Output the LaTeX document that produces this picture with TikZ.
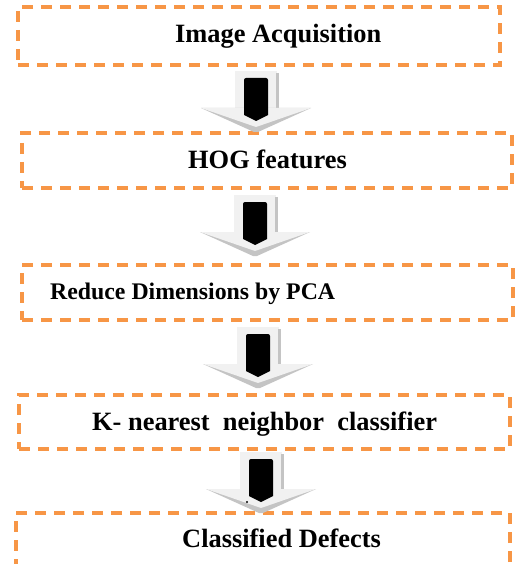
\documentclass[tikz,border=0pt]{standalone}
\usepackage{fontspec}
\setmainfont{Liberation Serif}
\definecolor{boxorange}{HTML}{F79646}
\definecolor{facelight}{HTML}{F1F1F1}
\definecolor{edgegray}{HTML}{C4C4C4}
\begin{document}
\begin{tikzpicture}[x=1pt,y=-1pt,
  flowbox/.style={draw=boxorange, line width=3.2pt, dash pattern=on 11pt off 8pt,
    rectangle, inner sep=0pt},
  steptext/.style={anchor=base west, inner sep=0pt, font=\fontsize{26.4}{30}\selectfont\bfseries},
  flowarrow/.pic={
    % shaft with its shaded side
    \fill[facelight] (-21,0) rectangle (21,37);
    \fill[edgegray] (20,2) rectangle (23,37);
    % head: shaded underside, then the light top face
    \fill[edgegray] (-55,37) -- (55,37) -- (2,61) -- (-2,61) -- cycle;
    \fill[facelight] (-55,37) -- (55,37) -- (0,56) -- cycle;
    % dark inner pointer
    \fill[black] (-12,44) [rounded corners=2pt] -- (-12,7) -- (12,7) [sharp corners] -- (12,44) -- (0,50) -- cycle;
  }]
\useasboundingbox (0,0) rectangle (515,564);
\clip (0,0) rectangle (515,564);

% process boxes
\node[flowbox, minimum width=482pt, minimum height=58pt] (b1) at (259,36) {};
\node[flowbox, minimum width=490pt, minimum height=55pt] (b2) at (267,160.5) {};
\node[flowbox, minimum width=491pt, minimum height=55pt] (b3) at (267.5,292.5) {};
\node[flowbox, minimum width=491pt, minimum height=54pt] (b4) at (264.5,422) {};
\node[flowbox, minimum width=494pt, minimum height=87pt] (b5) at (263,556.5) {};

% box captions
\node[steptext] (t1) at (175,43) {Image Acquisition};
\node[steptext] (t2) at (188,168) {HOG features};
\node[steptext, font=\fontsize{23.8}{28}\selectfont\bfseries] (t3) at (50,299) {Reduce Dimensions by PCA};
\node[steptext] (t4) at (92,430) {K- nearest~~neighbor~~classifier};
\node[steptext] (t5) at (182,547) {Classified Defects};

% block arrows between the steps
\pic at (256,71) {flowarrow};
\pic at (255,195) {flowarrow};
\pic at (258,327) {flowarrow};
\pic at (261,452) {flowarrow};
\fill[black] (247,502) circle (1.2pt);
\end{tikzpicture}
\end{document}
